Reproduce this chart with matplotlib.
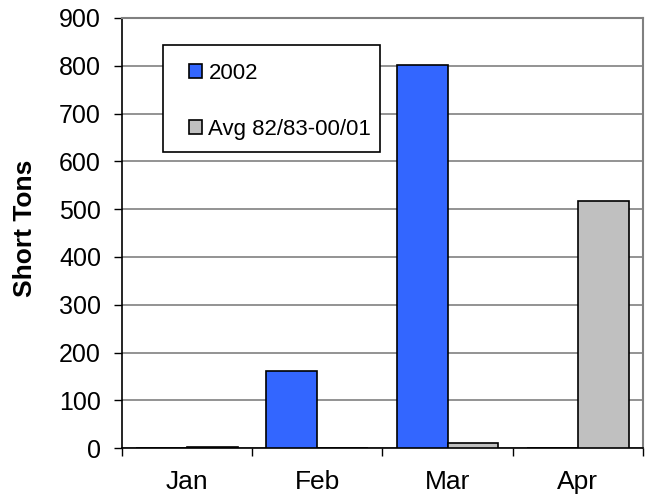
import matplotlib.pyplot as plt
from matplotlib.patches import Rectangle
import numpy as np

plt.rcParams['font.family'] = ['Liberation Sans', 'DejaVu Sans']

months = ['Jan', 'Feb', 'Mar', 'Apr']
tons_2002 = [0, 161, 802, 0]
tons_avg = [3, 0, 10, 518]
series_names = ['2002', 'Avg 82/83-00/01']

fig = plt.figure(figsize=(6.52, 4.99), dpi=100)
ax = fig.add_axes([0.187, 0.102, 0.799, 0.862])

x = np.arange(len(months))
w = 0.39
ax.bar(x - w / 2, tons_2002, w, color='#3366ff', edgecolor='black', linewidth=1.2,
       label=series_names[0], zorder=3)
ax.bar(x + w / 2, tons_avg, w, color='#c0c0c0', edgecolor='black', linewidth=1.2,
       label=series_names[1], zorder=3)

ax.set_xlim(-0.5, len(months) - 0.5)
ax.set_ylim(0, 900)
ax.set_yticks(np.arange(0, 901, 100))
ax.yaxis.grid(True, color='#808080', linewidth=1.2, zorder=0)

# month names centred, tick marks on the category boundaries
ax.set_xticks(x)
ax.set_xticklabels(months, fontsize=19)
ax.tick_params(axis='x', length=0, pad=16)
ax.set_xticks(np.arange(-0.5, len(months)), minor=True)
ax.tick_params(axis='x', which='minor', length=6, width=1, direction='out', color='black')
ax.tick_params(axis='y', labelsize=18, length=6, width=1, direction='out', pad=9)

for side in ['top', 'right']:
    ax.spines[side].set_color('#808080')
    ax.spines[side].set_linewidth(1.5)
for side in ['left', 'bottom']:
    ax.spines[side].set_color('black')
    ax.spines[side].set_linewidth(1.2)

ax.set_ylabel('Short Tons', fontsize=19, fontweight='bold')
ax.yaxis.set_label_coords(-0.163, 0.51)

# legend box drawn separately so the padding can be set freely
ax.add_patch(Rectangle((0.0787, 0.688), 0.4165, 0.249, transform=ax.transAxes,
                       facecolor='white', edgecolor='black', linewidth=1.2, zorder=5))
leg = ax.legend(loc='upper left', bbox_to_anchor=(0.1286, 0.895), fontsize=16,
                frameon=False, handlelength=0.58, handleheight=0.58, handletextpad=0.3,
                labelspacing=1.55, borderpad=0, borderaxespad=0)
leg.set_zorder(6)

fig.savefig('out.png', dpi=100)
